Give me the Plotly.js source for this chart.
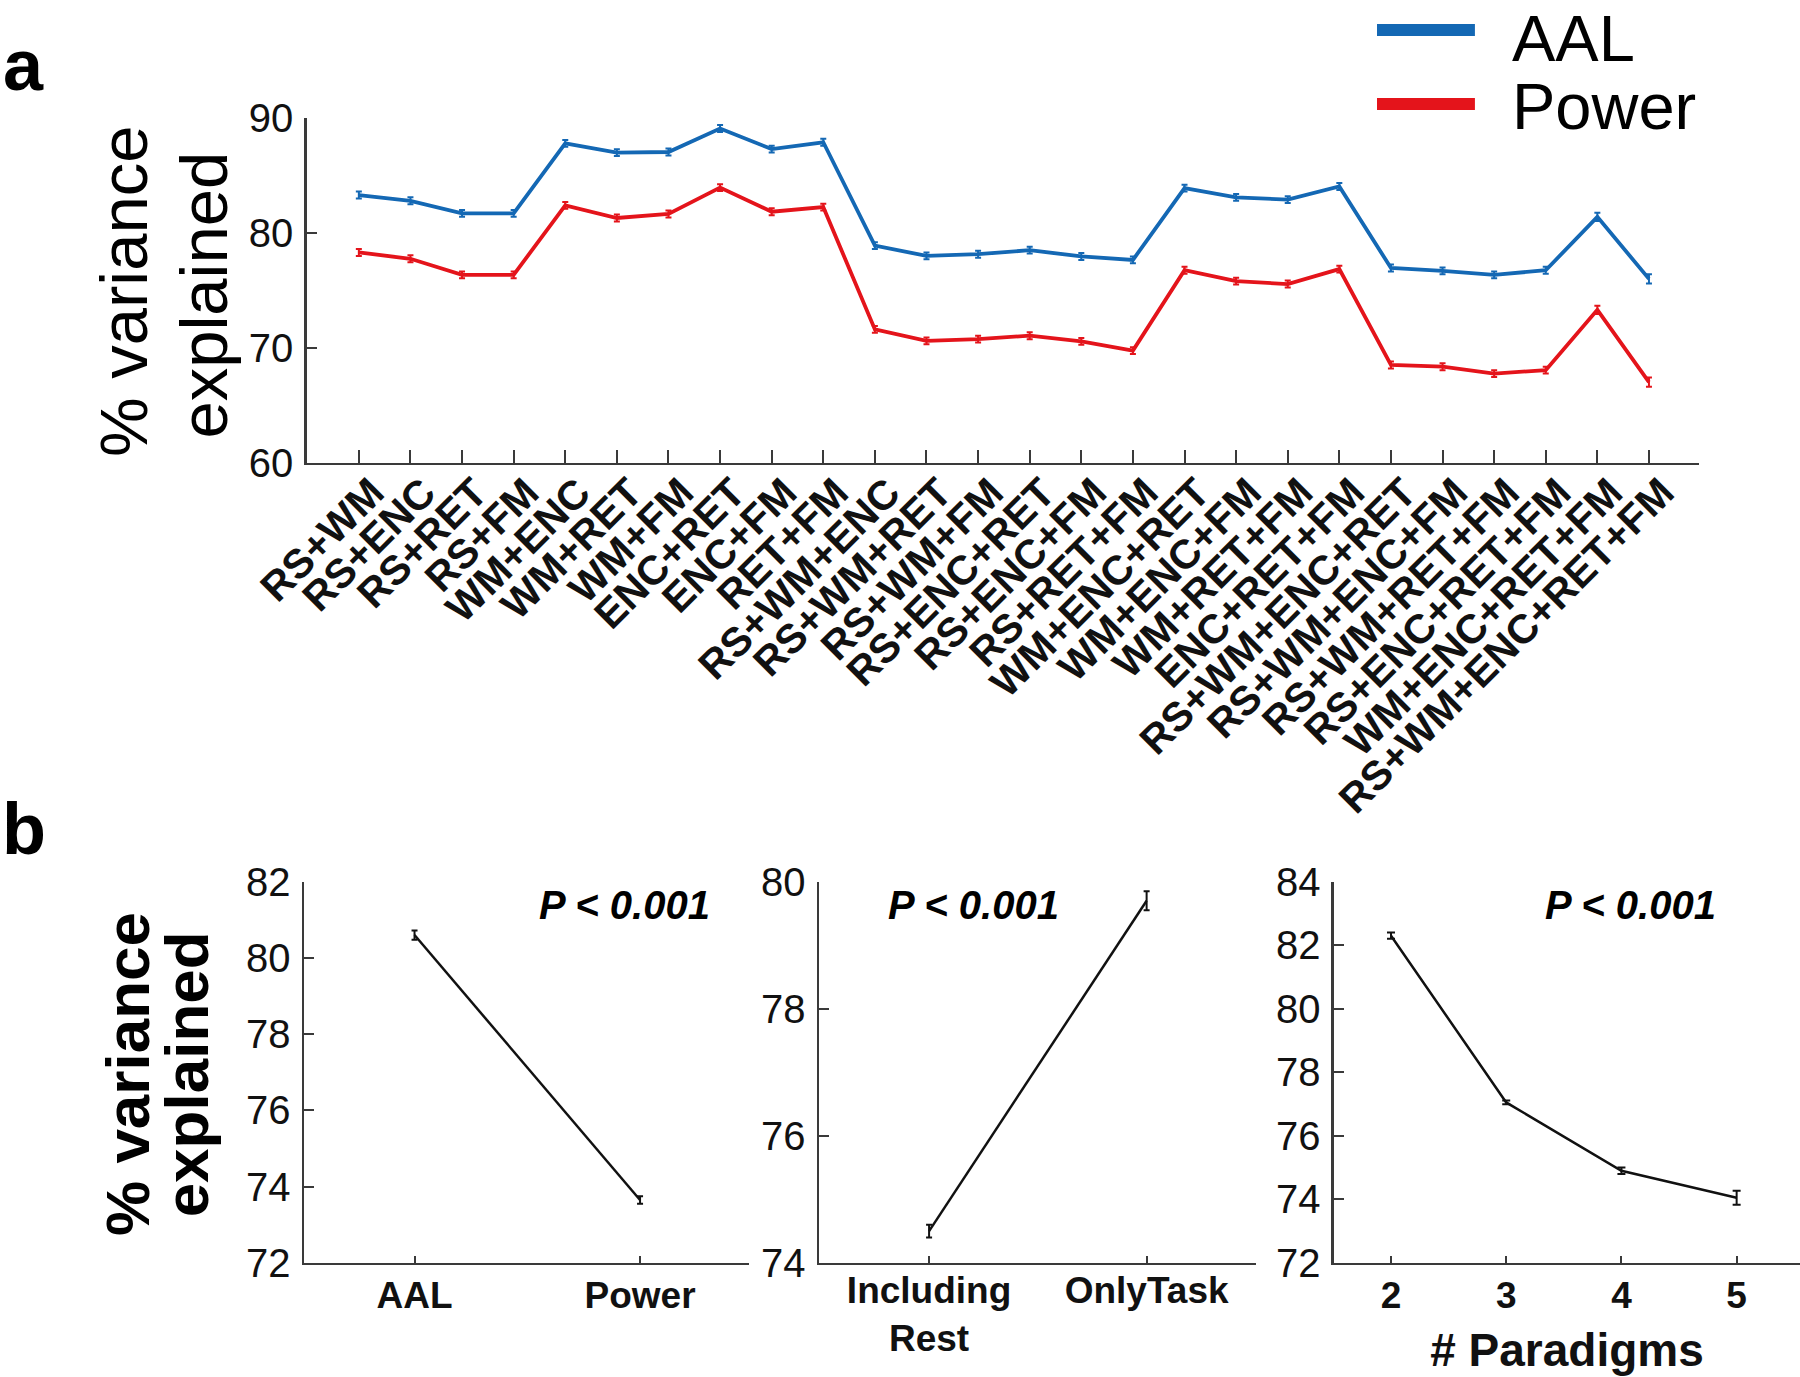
<!DOCTYPE html>
<html>
<head>
<meta charset="utf-8">
<script src="https://cdn.plot.ly/plotly-3.0.1.min.js"></script>
<style>html,body{margin:0;padding:0;background:#fff;}#chart{width:1800px;height:1377px;}</style>
</head>
<body>
<div id="chart"></div>
<script>
// ---- data ----
var combos = ["RS+WM","RS+ENC","RS+RET","RS+FM","WM+ENC","WM+RET","WM+FM","ENC+RET","ENC+FM","RET+FM",
  "RS+WM+ENC","RS+WM+RET","RS+WM+FM","RS+ENC+RET","RS+ENC+FM","RS+RET+FM",
  "WM+ENC+RET","WM+ENC+FM","WM+RET+FM","ENC+RET+FM",
  "RS+WM+ENC+RET","RS+WM+ENC+FM","RS+WM+RET+FM","RS+ENC+RET+FM","WM+ENC+RET+FM","RS+WM+ENC+RET+FM"];
var aalValues = [83.3, 82.8, 81.7, 81.7, 87.8, 87.0, 87.05, 89.1, 87.3, 87.9,
  78.9, 78.0, 78.15, 78.5, 77.95, 77.65, 83.9, 83.1, 82.9, 84.05,
  76.95, 76.7, 76.35, 76.75, 81.4, 76.0];
var aalErr = [0.3,0.3,0.3,0.3,0.3,0.3,0.3,0.3,0.3,0.3,0.3,0.3,0.3,0.3,0.3,0.3,0.3,0.3,0.3,0.3,0.3,0.3,0.3,0.3,0.35,0.4];
var powerValues = [78.3, 77.75, 76.35, 76.35, 82.4, 81.3, 81.65, 83.95, 81.85, 82.25,
  71.6, 70.6, 70.75, 71.05, 70.55, 69.75, 76.75, 75.8, 75.55, 76.85,
  68.5, 68.35, 67.75, 68.05, 73.3, 67.0];
var powerErr = [0.3,0.3,0.3,0.3,0.3,0.3,0.3,0.3,0.3,0.3,0.3,0.3,0.3,0.3,0.3,0.3,0.3,0.3,0.3,0.3,0.3,0.3,0.3,0.3,0.35,0.4];

var atlasLabels = ["AAL", "Power"];
var atlasValues = [80.6, 73.65];
var atlasErr = [0.12, 0.1];

var restLabels = ["Including<br>Rest", "OnlyTask"];
var restValues = [74.5, 79.7];
var restErr = [0.1, 0.15];

var nParadigms = [2, 3, 4, 5];
var nParValues = [82.3, 77.05, 74.9, 74.05];
var nParErr = [0.1, 0.06, 0.1, 0.22];

var seriesNames = ["AAL", "Power"];
var seriesColors = ["#1468b4", "#e4141b"];
var pText = "P < 0.001";

// ---- styling ----
var FONT = "Liberation Sans, Arial, Helvetica, sans-serif";
var axisCol = "#3a3a3a";

var traces = [
  {x: combos, y: aalValues, type: "scatter", mode: "lines", name: seriesNames[0],
   line: {color: seriesColors[0], width: 3.8},
   error_y: {type: "data", array: aalErr, visible: true, color: seriesColors[0], thickness: 2, width: 3},
   xaxis: "x", yaxis: "y"},
  {x: combos, y: powerValues, type: "scatter", mode: "lines", name: seriesNames[1],
   line: {color: seriesColors[1], width: 3.8},
   error_y: {type: "data", array: powerErr, visible: true, color: seriesColors[1], thickness: 2, width: 3},
   xaxis: "x", yaxis: "y"},
  {x: atlasLabels, y: atlasValues, type: "scatter", mode: "lines",
   line: {color: "#111", width: 2.5},
   error_y: {type: "data", array: atlasErr, visible: true, color: "#111", thickness: 2, width: 3},
   xaxis: "x2", yaxis: "y2"},
  {x: restLabels, y: restValues, type: "scatter", mode: "lines",
   line: {color: "#111", width: 2.5},
   error_y: {type: "data", array: restErr, visible: true, color: "#111", thickness: 2, width: 3},
   xaxis: "x3", yaxis: "y3"},
  {x: nParadigms, y: nParValues, type: "scatter", mode: "lines",
   line: {color: "#111", width: 2.5},
   error_y: {type: "data", array: nParErr, visible: true, color: "#111", thickness: 2, width: 4},
   xaxis: "x4", yaxis: "y4"}
];

function yAx(dom, rng, dt, anchor) {
  return {domain: dom, range: rng, dtick: dt, tick0: 0, anchor: anchor,
    showgrid: false, zeroline: false, showline: true, linecolor: axisCol, linewidth: 2.5,
    ticks: "inside", ticklen: 10, tickwidth: 2, tickcolor: axisCol,
    tickfont: {family: FONT, size: 40, color: "#111"}, ticklabelstandoff: 3, fixedrange: true};
}
function xAx(dom, rng, anchor, extra) {
  var a = {domain: dom, range: rng, anchor: anchor,
    showgrid: false, zeroline: false, showline: true, linecolor: axisCol, linewidth: 2.5,
    ticks: "inside", ticklen: 7, tickwidth: 2, tickcolor: axisCol,
    tickfont: {family: FONT, size: 37, color: "#111", weight: "bold"}, fixedrange: true};
  for (var k in extra) a[k] = extra[k];
  return a;
}

var bDom = [0.0829, 0.3597];

function pAnn(x) {
  return {text: pText, xref: "paper", yref: "paper", x: x, y: 0.343, xanchor: "center", yanchor: "middle",
    showarrow: false, font: {family: FONT, size: 40, weight: "bold", style: "italic", color: "#000"}};
}
function legLine(y, col) {
  return {type: "line", xref: "paper", yref: "paper", x0: 0.765, x1: 0.8194, y0: y, y1: y,
    line: {color: col, width: 12}};
}
function legText(t, y) {
  return {text: t, xref: "paper", yref: "paper", x: 0.8389, y: y, xanchor: "left", yanchor: "middle",
    showarrow: false, font: {family: FONT, size: 65, color: "#000"}};
}

var layout = {
  width: 1800, height: 1377,
  margin: {l: 0, r: 0, t: 0, b: 0},
  paper_bgcolor: "#fff", plot_bgcolor: "rgba(0,0,0,0)",
  font: {family: FONT, color: "#111"},
  showlegend: false,
  xaxis: xAx([0.1704, 0.9439], [-1.01, 25.97], "y",
    {type: "category", tickangle: -45, ticklen: 13, ticklabelstandoff: -13, ticklabelshift: 13,
     tickfont: {family: FONT, size: 41, color: "#111", weight: "bold"}}),
  yaxis: yAx([0.6641, 0.9142], [60, 90], 10, "x"),
  xaxis2: xAx([0.1689, 0.4161], [-0.49, 1.483], "y2", {type: "category", ticklabelstandoff: -2}),
  yaxis2: yAx(bDom, [72, 82], 2, "x2"),
  xaxis3: xAx([0.455, 0.6978], [-0.506, 1.503], "y3", {type: "category", ticklabelstandoff: -7}),
  yaxis3: yAx(bDom, [74, 80], 2, "x3"),
  xaxis4: xAx([0.7411, 1.0], [1.505, 5.55], "y4",
    {tickvals: nParadigms, ticklabelstandoff: -2,
     title: {text: "# Paradigms", font: {family: FONT, size: 46, color: "#111", weight: "bold"}, standoff: 19}}),
  yaxis4: yAx(bDom, [72, 84], 2, "x4"),
  shapes: [legLine(1 - 30/1377, seriesColors[0]), legLine(1 - 104/1377, seriesColors[1])],
  annotations: [
    legText(seriesNames[0], 1 - 38/1377),
    legText(seriesNames[1], 1 - 106/1377),
    {text: "a", xref: "paper", yref: "paper", x: 0.0133, y: 0.9528, xanchor: "center", yanchor: "middle",
     showarrow: false, font: {family: FONT, size: 72, weight: "bold", color: "#000"}},
    {text: "b", xref: "paper", yref: "paper", x: 0.0133, y: 0.398, xanchor: "center", yanchor: "middle",
     showarrow: false, font: {family: FONT, size: 72, weight: "bold", color: "#000"}},
    {text: "% variance", xref: "paper", yref: "paper", x: 0.0689, y: 0.788, xanchor: "center", yanchor: "middle",
     textangle: -90, showarrow: false, font: {family: FONT, size: 67, color: "#000"}},
    {text: "explained", xref: "paper", yref: "paper", x: 0.1133, y: 0.786, xanchor: "center", yanchor: "middle",
     textangle: -90, showarrow: false, font: {family: FONT, size: 67, color: "#000"}},
    {text: "% variance", xref: "paper", yref: "paper", x: 0.0705, y: 0.22, xanchor: "center", yanchor: "middle",
     textangle: -90, showarrow: false, font: {family: FONT, size: 62, weight: "bold", color: "#000"}},
    {text: "explained", xref: "paper", yref: "paper", x: 0.1035, y: 0.22, xanchor: "center", yanchor: "middle",
     textangle: -90, showarrow: false, font: {family: FONT, size: 62, weight: "bold", color: "#000"}},
    pAnn(0.347), pAnn(0.5406), pAnn(0.9056)
  ]
};

Plotly.newPlot("chart", traces, layout, {staticPlot: true, displayModeBar: false});
</script>
</body>
</html>
